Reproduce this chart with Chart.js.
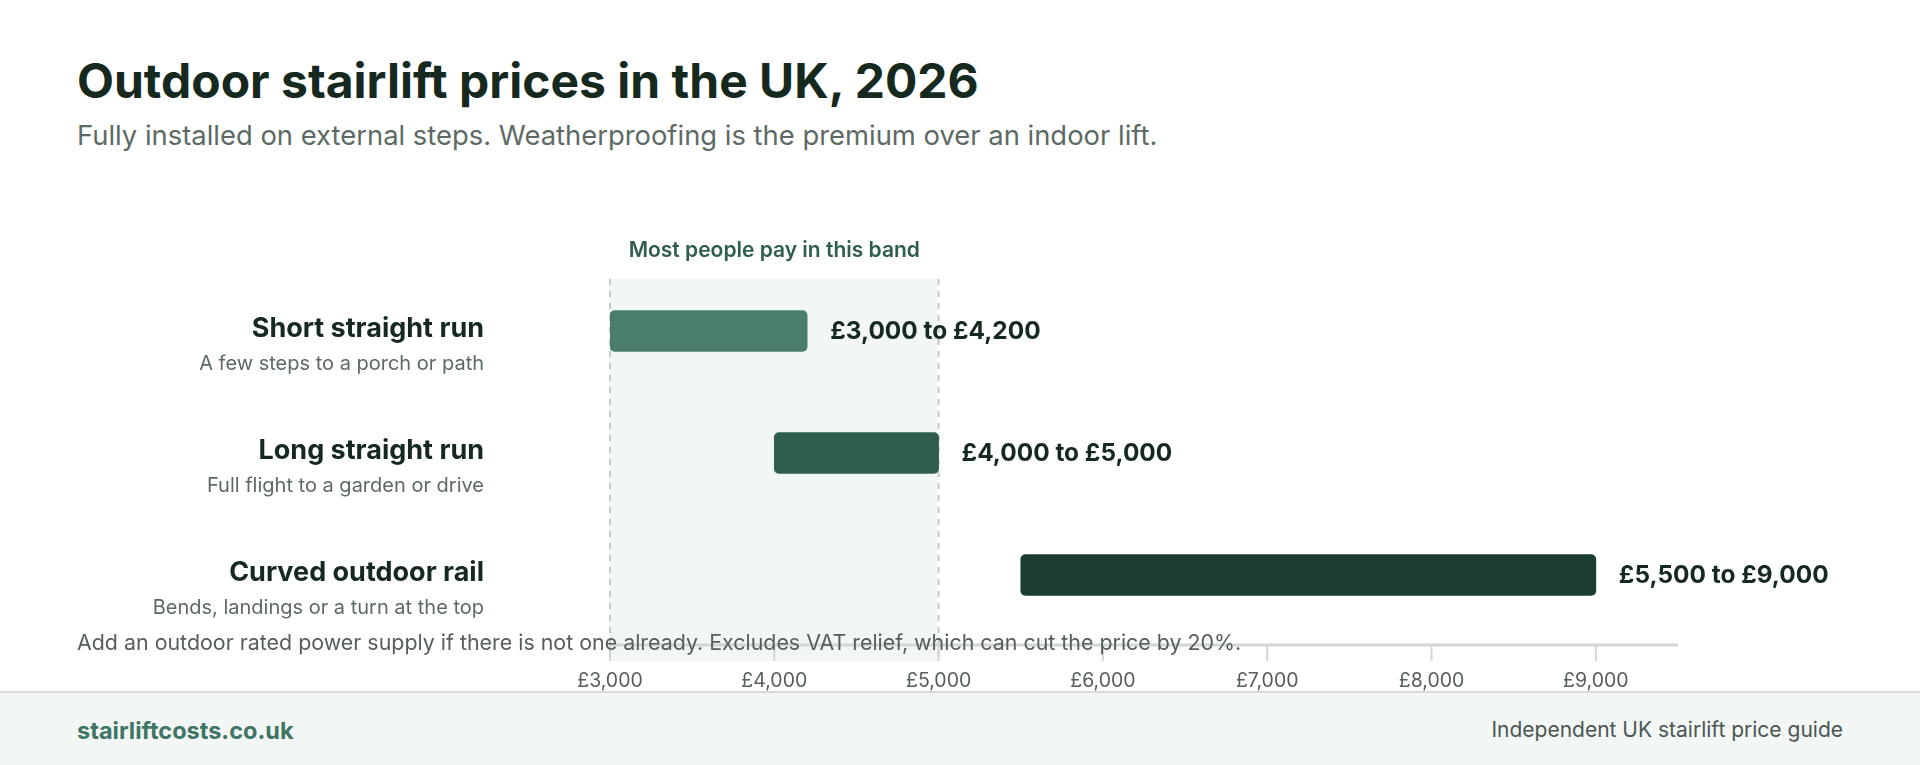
<!DOCTYPE html>
<html>
<head>
<meta charset="utf-8">
<script src="https://cdn.jsdelivr.net/npm/chart.js@4"></script>
<style>
  body { margin: 0; width: 1920px; height: 765px; background: #fff; font-family: Inter, sans-serif; position: relative; overflow: hidden; }
  .t { position: absolute; white-space: nowrap; }
  #title { left: 77px; top: 51px; font-size: 48px; font-weight: 700; color: #16291f; }
  #sub { left: 77px; top: 118px; font-size: 27.4px; color: #5d6a64; }
  #note { left: 77px; top: 629px; font-size: 21.4px; color: #555f5b; z-index: 2; }
  #footer { position: absolute; left: 0; top: 691px; width: 1920px; height: 74px; background: #f2f6f4; border-top: 2px solid #d6dbd8; }
  #site { left: 77px; top: 23px; font-size: 23.5px; font-weight: 700; color: #3f7565; }
  #guide { right: 77px; top: 24px; font-size: 21px; color: #4b5652; }
  canvas { position: absolute; left: 0; top: 0; z-index: 1; }
</style>
</head>
<body>
<div class="t" id="title">Outdoor stairlift prices in the UK, 2026</div>
<div class="t" id="sub">Fully installed on external steps. Weatherproofing is the premium over an indoor lift.</div>
<div id="footer">
  <div class="t" id="site">stairliftcosts.co.uk</div>
  <div class="t" id="guide">Independent UK stairlift price guide</div>
</div>
<canvas id="c" width="1920" height="700"></canvas>
<div class="t" id="note">Add an outdoor rated power supply if there is not one already. Excludes VAT relief, which can cut the price by 20%.</div>
<script>
// rows
const categories = ["Short straight run", "Long straight run", "Curved outdoor rail"];
const subLabels = ["A few steps to a porch or path", "Full flight to a garden or drive", "Bends, landings or a turn at the top"];
const lowPrices = [3000, 4000, 5500];
const highPrices = [4200, 5000, 9000];
const rangeLabels = ["£3,000 to £4,200", "£4,000 to £5,000", "£5,500 to £9,000"];
const barColors = ["#4b7d6e", "#2f5e4e", "#1c3e32"];
const bandLow = 3000, bandHigh = 5000;
const tickValues = [3000, 4000, 5000, 6000, 7000, 8000, 9000];

const FONT = "Inter, sans-serif";
const AXIS_Y = 645;

// shaded band + dashed edges behind the bars
const bandPlugin = {
  id: 'band',
  beforeDatasetsDraw(chart) {
    const ctx = chart.ctx, x = chart.scales.x;
    const x0 = x.getPixelForValue(bandLow), x1 = x.getPixelForValue(bandHigh);
    ctx.save();
    ctx.fillStyle = "#f2f6f4";
    ctx.fillRect(x0, 279, x1 - x0, 382);
    ctx.strokeStyle = "#c3cbc7";
    ctx.lineWidth = 2;
    ctx.setLineDash([6, 6]);
    [x0, x1].forEach(px => {
      ctx.beginPath(); ctx.moveTo(px, 279); ctx.lineTo(px, 661); ctx.stroke();
    });
    ctx.setLineDash([]);
    ctx.fillStyle = "#2f5e4e";
    ctx.font = "600 21px " + FONT;
    ctx.textAlign = "center";
    ctx.textBaseline = "middle";
    ctx.fillText("Most people pay in this band", (x0 + x1) / 2, 251);
    // axis line and tick marks
    ctx.strokeStyle = "#d2d6d4";
    ctx.lineWidth = 3;
    ctx.beginPath(); ctx.moveTo(x.left, AXIS_Y); ctx.lineTo(x.right, AXIS_Y); ctx.stroke();
    ctx.lineWidth = 2;
    tickValues.forEach(v => {
      const px = x.getPixelForValue(v);
      ctx.beginPath(); ctx.moveTo(px, AXIS_Y); ctx.lineTo(px, AXIS_Y + 16); ctx.stroke();
    });
    ctx.restore();
  }
};

// row names on the left, price labels after each bar
const labelPlugin = {
  id: 'labels',
  afterDatasetsDraw(chart) {
    const ctx = chart.ctx, x = chart.scales.x, y = chart.scales.y;
    ctx.save();
    ctx.textBaseline = "middle";
    categories.forEach((c, i) => {
      const py = y.getPixelForValue(i);
      ctx.textAlign = "right";
      ctx.fillStyle = "#16291f";
      ctx.font = "700 27px " + FONT;
      ctx.fillText(c, 484, py - 2);
      ctx.fillStyle = "#5d6a64";
      ctx.font = "20px " + FONT;
      ctx.fillText(subLabels[i], 484, py + 33);
      ctx.textAlign = "left";
      ctx.fillStyle = "#16291f";
      ctx.font = "700 24.4px " + FONT;
      ctx.fillText(rangeLabels[i], x.getPixelForValue(highPrices[i]) + 23, py + 1);
    });
    ctx.restore();
  }
};

new Chart(document.getElementById('c'), {
  type: 'bar',
  data: {
    labels: categories,
    datasets: [{
      data: lowPrices.map((v, i) => [v, highPrices[i]]),
      backgroundColor: barColors,
      borderRadius: 5,
      borderSkipped: false,
      barThickness: 41
    }]
  },
  options: {
    indexAxis: 'y',
    responsive: false,
    devicePixelRatio: 1,
    animation: false,
    layout: { padding: { left: 610, right: 242, top: 270, bottom: 4 } },
    plugins: { legend: { display: false }, tooltip: { enabled: false } },
    scales: {
      y: { display: false },
      x: {
        min: 3000, max: 9500,
        afterFit(s) { s.height = 60; },
        afterBuildTicks(s) { s.ticks = tickValues.map(v => ({ value: v })); },
        border: { display: false },
        grid: { drawOnChartArea: false, drawTicks: false },
        ticks: {
          padding: 33,
          color: "#555f5b",
          font: { family: FONT, size: 19.5 },
          callback: v => "£" + v.toLocaleString("en-GB")
        }
      }
    }
  },
  plugins: [bandPlugin, labelPlugin]
});
</script>
</body>
</html>
